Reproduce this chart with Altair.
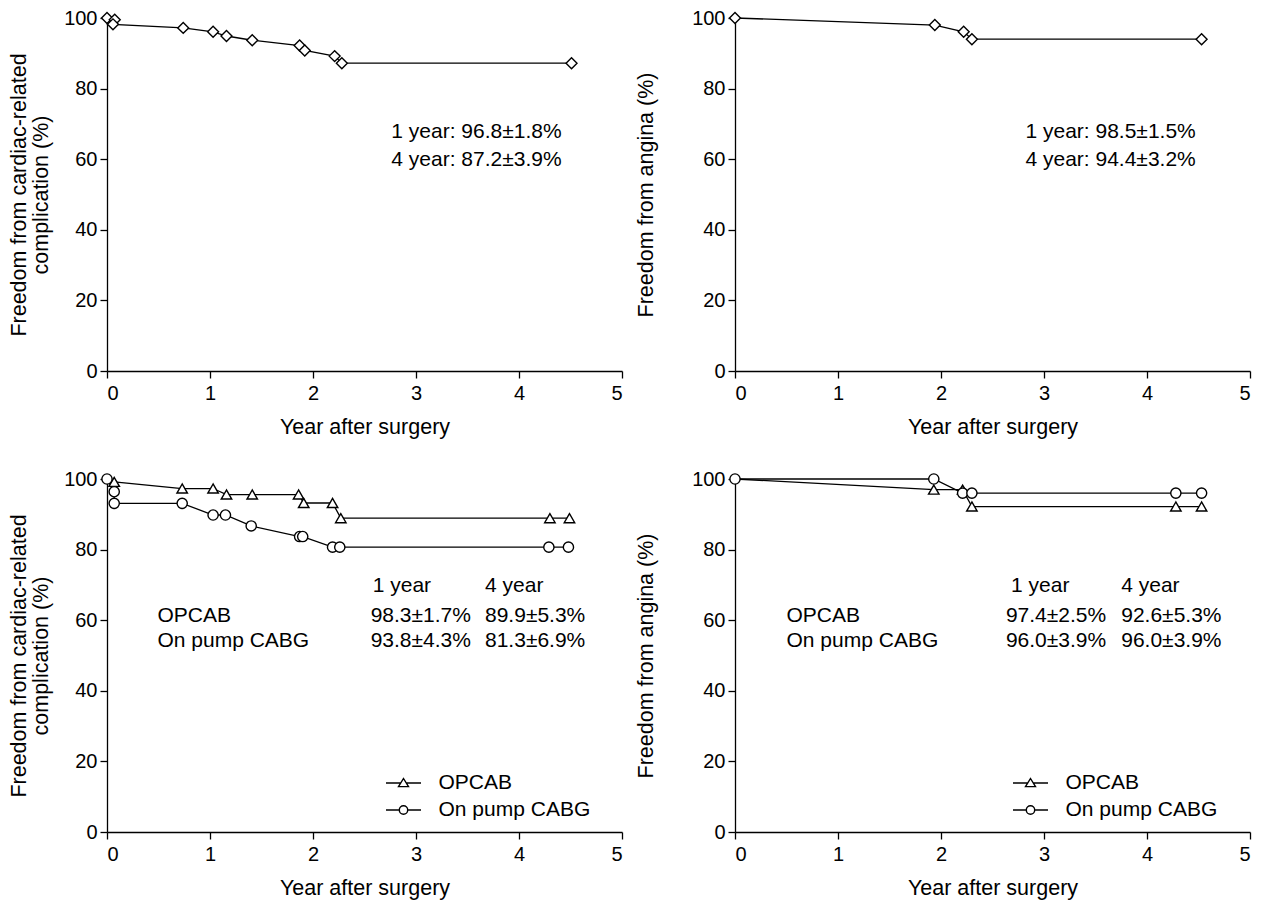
import altair as alt
import pandas as pd

FONT = "Liberation Sans"
FS = 20      # tick labels
FS_T = 21    # annotation / legend text
FS_AX = 21.5 # axis titles

# ---- data ----
# Top-left: freedom from cardiac-related complication (all patients)
tl_x = [0, 0.075, 0.058, 0.74, 1.03, 1.16, 1.41, 1.87, 1.92, 2.21, 2.28, 4.51]
tl_y = [100, 99.5, 98.2, 97.2, 96.1, 94.9, 93.7, 92.2, 90.8, 89.2, 87.2, 87.2]
# Top-right: freedom from angina (all patients)
tr_x = [0, 1.94, 2.22, 2.30, 4.53]
tr_y = [100, 98.0, 96.1, 94.0, 94.0]
# Bottom-left: cardiac-related complication by group
bl_op_x = [0, 0.07, 0.73, 1.03, 1.16, 1.41, 1.86, 1.91, 2.19, 2.27, 4.30, 4.49]
bl_op_y = [100, 99.2, 97.3, 97.3, 95.6, 95.6, 95.6, 93.2, 93.2, 88.9, 88.9, 88.9]
bl_on_x = [0, 0.07, 0.07, 0.73, 1.03, 1.15, 1.40, 1.87, 1.90, 2.19, 2.26, 4.29, 4.48]
bl_on_y = [100, 96.4, 93.1, 93.1, 89.8, 89.8, 86.7, 83.7, 83.7, 80.7, 80.7, 80.7, 80.7]
# Bottom-right: angina by group
br_op_x = [0, 1.93, 2.21, 2.30, 4.28, 4.53]
br_op_y = [100, 97.0, 97.0, 92.2, 92.2, 92.2]
br_on_x = [0, 1.93, 2.21, 2.30, 4.28, 4.53]
br_on_y = [100, 100, 96.0, 96.0, 96.0, 96.0]

groups = ["OPCAB", "On pump CABG"]
x_ticks = [0, 1, 2, 3, 4, 5]
y_ticks = [0, 20, 40, 60, 80, 100]

# annotation texts (text, x in years, y in %)
tl_notes = [("1 year: 96.8\u00b11.8%", 2.76, 67.7), ("4 year: 87.2\u00b13.9%", 2.76, 59.8)]
tr_notes = [("1 year: 98.5\u00b11.5%", 2.82, 67.7), ("4 year: 94.4\u00b13.2%", 2.82, 59.8)]
bl_notes = [("1 year", 2.58, 69.6), ("4 year", 3.67, 69.6),
            ("OPCAB", 0.49, 61.1), ("98.3\u00b11.7%", 2.56, 61.1), ("89.9\u00b15.3%", 3.67, 61.1),
            ("On pump CABG", 0.49, 54.0), ("93.8\u00b14.3%", 2.56, 54.0), ("81.3\u00b16.9%", 3.67, 54.0)]
br_notes = [("1 year", 2.68, 69.6), ("4 year", 3.75, 69.6),
            ("OPCAB", 0.50, 61.1), ("97.4\u00b12.5%", 2.63, 61.1), ("92.6\u00b15.3%", 3.75, 61.1),
            ("On pump CABG", 0.50, 54.0), ("96.0\u00b13.9%", 2.63, 54.0), ("96.0\u00b13.9%", 3.75, 54.0)]

TRI_PATH = "M-1.75,0H-0.28M0.28,0H1.75M0,-0.45L0.5,0.36L-0.5,0.36Z"
CIR_PATH = "M-1.75,0H-0.42M0.42,0H1.75M0.42,0A0.42,0.42,0,1,1,-0.42,0A0.42,0.42,0,1,1,0.42,0Z"

W, H = 515, 353


def series_df(name, xs, ys):
    return pd.DataFrame({"x": xs, "y": ys, "g": name, "i": list(range(len(xs)))})


def panel(series, ytitle, ytitle_pad, notes, legend_xy=None):
    x_enc = alt.X("x:Q", scale=alt.Scale(domain=[0, 5], nice=False),
                  axis=alt.Axis(values=x_ticks, title="Year after surgery", titlePadding=13))
    y_enc = alt.Y("y:Q", scale=alt.Scale(domain=[0, 100], nice=False),
                  axis=alt.Axis(values=y_ticks, title=ytitle, titlePadding=ytitle_pad,
                                titleLineHeight=22, labelPadding=3))
    layers = []
    for name, xs, ys, shape, size, skip0 in series:
        df = series_df(name, xs, ys)
        layers.append(alt.Chart(df).mark_line(color="black", strokeWidth=1.3).encode(
            x=x_enc, y=y_enc, order="i:Q"))
    for name, xs, ys, shape, size, skip0 in series:
        df = series_df(name, xs, ys)
        pts = alt.Chart(df).mark_point(shape=shape, size=size, filled=True, fill="white",
                                       stroke="black", strokeWidth=1.4, opacity=1)
        if skip0:
            pts = pts.transform_filter("datum.i > 0")
        layers.append(pts.encode(x=x_enc, y=y_enc))
    ndf = pd.DataFrame({"t": [n[0] for n in notes], "x": [n[1] for n in notes],
                        "y": [n[2] for n in notes]})
    layers.append(alt.Chart(ndf).mark_text(align="left", baseline="middle", font=FONT,
                                           fontSize=FS_T, color="black").encode(
        x=x_enc, y=y_enc, text="t:N"))
    if legend_xy is not None:
        ldf = pd.DataFrame({"g": groups, "x": [0, 0], "y": [0, 0]})
        leg = alt.Chart(ldf).mark_point(filled=False, color="black", strokeWidth=1.4,
                                        opacity=1).transform_filter("false").encode(
            x=x_enc, y=y_enc,
            shape=alt.Shape("g:N", scale=alt.Scale(domain=groups, range=[TRI_PATH, CIR_PATH]),
                            legend=alt.Legend(title=None, orient="none",
                                              legendX=legend_xy[0], legendY=legend_xy[1],
                                              symbolSize=400, symbolStrokeWidth=1.4,
                                              symbolStrokeColor="black",
                                              symbolFillColor="transparent",
                                              labelFont=FONT, labelFontSize=FS_T,
                                              labelColor="black", labelOffset=24,
                                              rowPadding=6, padding=0, offset=0)))
        layers.append(leg)
    return alt.layer(*layers).properties(width=W, height=H)


tl = panel([("all", tl_x, tl_y, "diamond", 120, False)],
           ["Freedom from cardiac-related", "complication (%)"], 11, tl_notes)
tr = panel([("all", tr_x, tr_y, "diamond", 120, False)],
           "Freedom from angina (%)", 34, tr_notes)
bl = panel([("OPCAB", bl_op_x, bl_op_y, "triangle-up", 110, True),
            ("On pump CABG", bl_on_x, bl_on_y, "circle", 105, False)],
           ["Freedom from cardiac-related", "complication (%)"], 11, bl_notes, (285.5, 293))
br = panel([("OPCAB", br_op_x, br_op_y, "triangle-up", 110, True),
            ("On pump CABG", br_on_x, br_on_y, "circle", 105, False)],
           "Freedom from angina (%)", 34, br_notes, (284.5, 293))

chart = alt.concat(tl, tr, bl, br, columns=2, spacing={"row": 108, "column": 113},
                   bounds="flush").resolve_scale(shape="independent").resolve_legend(
    shape="independent").properties(
    padding={"left": 0, "top": 0, "right": 5, "bottom": 2}, background="white"
).configure_view(stroke=None).configure_axis(
    grid=False, domainColor="black", domainWidth=1.3, tickColor="black", tickWidth=1.3,
    tickSize=7, labelFont=FONT, labelFontSize=FS, labelColor="black", labelPadding=5,
    titleFont=FONT, titleFontSize=FS_AX, titleFontWeight="normal", titleColor="black"
)

chart.save("out.html", embed_options={"renderer": "svg", "actions": False})
